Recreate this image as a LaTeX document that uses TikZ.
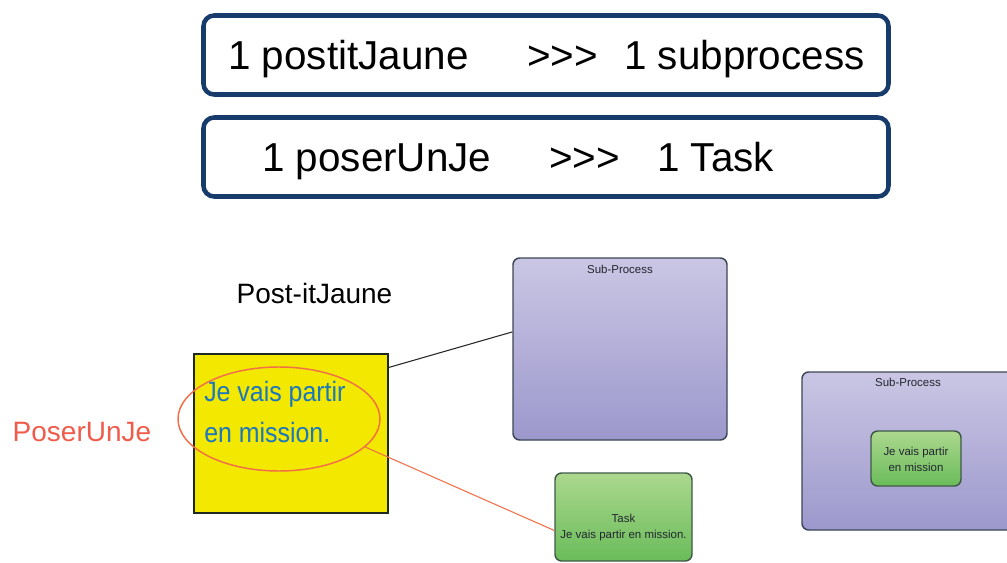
\documentclass[tikz,border=0pt]{standalone}
\usepackage{fontspec}
\setmainfont{Liberation Sans}
\newfontfamily\condfont[FakeStretch=0.89]{Liberation Sans}
\usetikzlibrary{shapes.geometric}
\definecolor{topblue}{RGB}{23,59,107}
\definecolor{subtop}{RGB}{202,198,228}
\definecolor{subbot}{RGB}{156,152,204}
\definecolor{subedge}{RGB}{60,70,86}
\definecolor{grtop}{RGB}{172,216,142}
\definecolor{grbot}{RGB}{106,188,90}
\definecolor{gredge}{RGB}{62,90,70}
\definecolor{postit}{RGB}{242,232,0}
\definecolor{postedge}{RGB}{30,42,32}
\definecolor{jeblue}{RGB}{28,120,188}
\definecolor{poserred}{RGB}{240,92,76}
\definecolor{ellcol}{RGB}{242,112,72}
\definecolor{smalltxt}{RGB}{34,38,48}
\tikzset{
  topbox/.style={draw=topblue, line width=3.4pt, rounded corners=8pt, fill=white,
    minimum width=513.75pt, minimum height=59.25pt, inner sep=0pt},
  toptxt/.style={anchor=base west, inner sep=0pt, font=\fontsize{30.3}{36}\selectfont},
  subbox/.style={draw=subedge, line width=1.1pt, rounded corners=5pt,
    top color=subtop, bottom color=subbot, inner sep=0pt},
  taskbox/.style={draw=gredge, line width=1.1pt, rounded corners=5pt,
    top color=grtop, bottom color=grbot, inner sep=0pt},
  smalllbl/.style={inner sep=0pt, text=smalltxt, align=center,
    font=\fontsize{8.6}{12}\selectfont},
  bigtxt/.style={inner sep=0pt, font=\fontsize{21}{25}\selectfont},
  yeltxt/.style={anchor=base west, inner sep=0pt, text=jeblue, font=\condfont\fontsize{21}{25}\selectfont},
}
\begin{document}
\begin{tikzpicture}[x=0.75pt, y=-0.75pt]
\useasboundingbox (0,0) rectangle (1007,563);
\clip (0,0) rectangle (1007,563);
% top boxes
\node[topbox] (b1) at (546,55) {};
\node[topbox] (b2) at (546,157) {};
\node[toptxt] (t1a) at (228,70) {1 postitJaune};
\node[toptxt] (t1b) at (527,70) {{>}{>}{>}};
\node[toptxt] (t1c) at (624,70) {1 subprocess};
\node[toptxt] (t2a) at (262,172) {1 poserUnJe};
\node[toptxt] (t2b) at (549,172) {{>}{>}{>}};
\node[toptxt] (t2c) at (657,172) {1 Task};
% labels
\node[bigtxt] (pj) at (314.5,293) {Post-itJaune};
\node[bigtxt, text=poserred] (pu) at (82,432) {PoserUnJe};
% sub-process boxes
\node[subbox, minimum width=160.5pt, minimum height=136.5pt] (sub1) at (620,349) {};
\node[smalllbl, anchor=center] (sub1l) at (620,269) {Sub-Process};
\node[subbox, minimum width=159pt, minimum height=118.5pt] (sub2) at (908,451) {};
\node[smalllbl, anchor=center] (sub2l) at (908,382) {Sub-Process};
\node[taskbox, minimum width=67.5pt, minimum height=41.25pt] (inner) at (916,458.5) {};
\node[smalllbl] (innerl) at (916,459) {Je vais partir\\ en mission};
% task
\node[taskbox, minimum width=102.75pt, minimum height=66pt] (task) at (623.5,517) {};
\node[smalllbl] (taskl) at (623.5,528) {Task\\Je vais partir en mission.};
% post-it
\node[draw=postedge, line width=1.5pt, fill=postit, minimum width=145.5pt, minimum height=119.25pt, inner sep=0pt] (yel) at (291,433.5) {};
\node[yeltxt] (y1) at (204,401) {Je vais partir};
\node[yeltxt] (y2) at (204,442) {en mission.};
\node[ellipse, draw=ellcol, line width=1.1pt, minimum width=151.5pt, minimum height=78pt, inner sep=0pt] (ell) at (279,419) {};
% connectors
\draw[line width=0.8pt, black!85] (yel.34) -- (sub1.171);
\draw[line width=0.8pt, ellcol] (ell.-18) -- (task.191);
\end{tikzpicture}
\end{document}
